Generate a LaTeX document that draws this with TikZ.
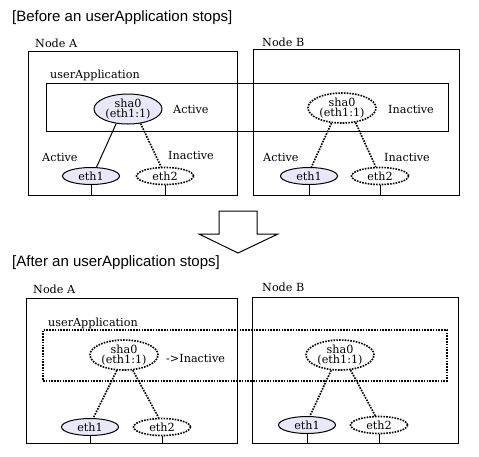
\documentclass[tikz,border=0pt]{standalone}
\usepackage{fontspec}
\setmainfont{DejaVu Serif}
\newfontfamily\titlefont{Liberation Sans}
\usetikzlibrary{shapes.geometric}
\definecolor{lav}{RGB}{232,232,250}
\tikzset{
  box/.style={draw, line width=1pt, inner sep=0},
  dotbox/.style={draw, line width=1.6pt, dash pattern=on 1.6pt off 1.2pt, inner sep=0},
  sha/.style={ellipse, minimum width=68pt, minimum height=30pt, inner sep=0, align=center, font=\fontsize{11.2}{10.5}\selectfont},
  eth/.style={ellipse, minimum width=57pt, minimum height=17pt, inner sep=0, font=\fontsize{11.2}{12}\selectfont},
  on/.style={draw, line width=1pt, fill=lav},
  off/.style={draw, line width=1.6pt, dash pattern=on 1.6pt off 1.2pt, fill=white},
  txt/.style={anchor=west, inner sep=0, font=\fontsize{11.2}{12}\selectfont},
  ttl/.style={anchor=west, inner sep=0, font=\titlefont\fontsize{15}{17}\selectfont},
  con/.style={line width=1pt},
  dcon/.style={line width=1.6pt, dash pattern=on 1.6pt off 1.2pt}
}
\begin{document}
\begin{tikzpicture}
    \def\x{1pt}
    \def\y{-1pt}
    \useasboundingbox (0,0) rectangle (479*\x, 456*\y);
    % before
    \node[ttl] (T0) at (12*\x, 18*\y) {[Before an userApplication stops]};
    \node[txt] (L0_0) at (35*\x, 43*\y) {Node A};
    \node[txt] (L0_1) at (262*\x, 42*\y) {Node B};
    \node[box, minimum width=209pt, minimum height=144pt] (B0_0) at (132.5*\x, 123*\y) {};
    \node[box, minimum width=206pt, minimum height=146pt] (B0_1) at (356*\x, 122*\y) {};
    \node[box, minimum width=402pt, minimum height=48pt] (U0) at (247*\x, 107*\y) {};
    \node[txt] (P0) at (50*\x, 75*\y) {userApplication};
    \node[sha, on] (S0_0) at (128*\x, 109*\y) {sha0\\(eth1:1)};
    \node[sha, off] (S0_1) at (342*\x, 108*\y) {sha0\\(eth1:1)};
    \node[txt] (C0_0) at (173*\x, 109*\y) {Active};
    \node[txt] (C0_1) at (388*\x, 109*\y) {Inactive};
    \node[eth, on] (E0_0) at (91*\x, 176*\y) {eth1};
    \node[eth, off] (E0_1) at (165*\x, 176*\y) {eth2};
    \node[eth, on] (E0_2) at (309*\x, 176*\y) {eth1};
    \node[eth, off] (E0_3) at (380*\x, 176*\y) {eth2};
    \node[txt] (D0_0) at (42*\x, 157*\y) {Active};
    \node[txt] (D0_1) at (168*\x, 155*\y) {Inactive};
    \node[txt] (D0_2) at (263*\x, 157*\y) {Active};
    \node[txt] (D0_3) at (384*\x, 157*\y) {Inactive};
    \path (S0_0.-129) edge [con] (E0_0.58);
    \path (S0_0.-49) edge [dcon] (E0_1.113);
    \path (S0_1.-125) edge [dcon] (E0_2.75);
    \path (S0_1.-47) edge [dcon] (E0_3.115);
    \draw[con] (E0_0.south) -- (E0_0.south |- B0_0.south);
    \draw[con] (E0_1.south) -- (E0_1.south |- B0_0.south);
    \draw[con] (E0_2.south) -- (E0_2.south |- B0_1.south);
    \draw[con] (E0_3.south) -- (E0_3.south |- B0_1.south);
    % arrow
    \draw[con, fill=white] (219*\x, 211*\y) -- (257*\x, 211*\y) -- (257*\x, 234*\y)
      -- (278*\x, 234*\y) -- (238*\x, 253*\y) -- (199*\x, 234*\y) -- (219*\x, 234*\y) -- cycle;
    % after
    \node[ttl] (T1) at (12*\x, 263*\y) {[After an userApplication stops]};
    \node[txt] (L1_0) at (33*\x, 289*\y) {Node A};
    \node[txt] (L1_1) at (262*\x, 287*\y) {Node B};
    \node[box, minimum width=211pt, minimum height=145pt] (B1_0) at (131.5*\x, 370.5*\y) {};
    \node[box, minimum width=206pt, minimum height=146pt] (B1_1) at (355*\x, 370*\y) {};
    \node[dotbox, minimum width=404pt, minimum height=51pt] (U1) at (245*\x, 355.5*\y) {};
    \node[txt] (P1) at (48*\x, 323*\y) {userApplication};
    \node[sha, off] (S1_0) at (124*\x, 355*\y) {sha0\\(eth1:1)};
    \node[sha, off] (S1_1) at (340*\x, 355*\y) {sha0\\(eth1:1)};
    \node[txt] (C1_0) at (166*\x, 358*\y) {->Inactive};
    \node[eth, on] (E1_0) at (90*\x, 427*\y) {eth1};
    \node[eth, off] (E1_1) at (162*\x, 427*\y) {eth2};
    \node[eth, on] (E1_2) at (307*\x, 425*\y) {eth1};
    \node[eth, off] (E1_3) at (379*\x, 425*\y) {eth2};
    \path (S1_0.-115) edge [dcon] (E1_0.70);
    \path (S1_0.-60) edge [dcon] (E1_1.110);
    \path (S1_1.-120) edge [dcon] (E1_2.72);
    \path (S1_1.-55) edge [dcon] (E1_3.112);
    \draw[con] (E1_0.south) -- (E1_0.south |- B1_0.south);
    \draw[con] (E1_1.south) -- (E1_1.south |- B1_0.south);
    \draw[con] (E1_2.south) -- (E1_2.south |- B1_1.south);
    \draw[con] (E1_3.south) -- (E1_3.south |- B1_1.south);
\end{tikzpicture}
\end{document}
